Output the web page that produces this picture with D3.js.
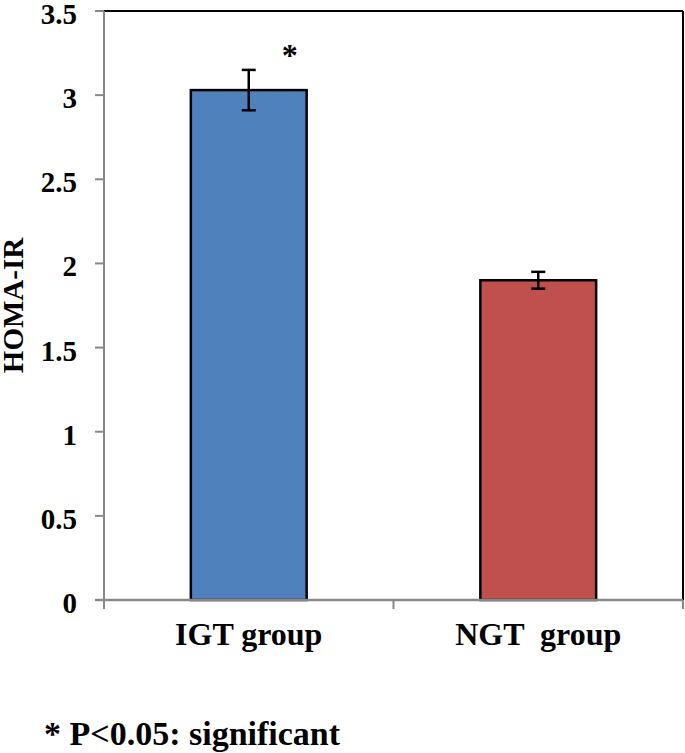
<!DOCTYPE html>
<html><head><meta charset="utf-8">
<script src="https://cdn.jsdelivr.net/npm/d3@7"></script>
<style>body{margin:0;background:#fff}svg{display:block}text{font-family:"Liberation Serif","Times New Roman",serif;font-weight:bold;fill:#000;white-space:pre}</style>
</head><body>
<svg id="c" width="685" height="753"></svg>
<script>
const categories = ["IGT group", "NGT  group"];
const values = [3.03, 1.90];
const errors = [0.12, 0.05];
const colors = ["#4F81BD", "#C0504D"];
const yTicks = [0, 0.5, 1, 1.5, 2, 2.5, 3, 3.5];
const yTickLabels = ["0", "0.5", "1", "1.5", "2", "2.5", "3", "3.5"];
const significant = [true, false];

const svg = d3.select("#c");
const L = 104, R = 683, T = 11, B = 600;
const x = d3.scaleBand().domain(categories).range([L, R]).paddingInner(0.6).paddingOuter(0.3);
const xb = d3.scaleBand().domain(categories).range([L, R]);
const y = d3.scaleLinear().domain([0, 3.5]).range([B, T]);

// frame top & right
svg.append("line").attr("x1", L).attr("x2", R).attr("y1", T).attr("y2", T).attr("stroke", "#000").attr("stroke-width", 2);
svg.append("line").attr("x1", R).attr("x2", R).attr("y1", T).attr("y2", B).attr("stroke", "#000").attr("stroke-width", 2);

// y axis
svg.append("line").attr("x1", L).attr("x2", L).attr("y1", T).attr("y2", B).attr("stroke", "#888").attr("stroke-width", 2);
yTicks.forEach((t, i) => {
  svg.append("line").attr("x1", L - 9).attr("x2", L).attr("y1", y(t)).attr("y2", y(t)).attr("stroke", "#888").attr("stroke-width", 2);
  svg.append("text").attr("x", 77).attr("y", y(t)).attr("dy", "0.45em").attr("text-anchor", "end").attr("font-size", 29).text(yTickLabels[i]);
});

// bars
svg.selectAll("rect.bar").data(categories).join("rect")
  .attr("x", d => x(d)).attr("width", x.bandwidth())
  .attr("y", (d, i) => y(values[i])).attr("height", (d, i) => y(0) - y(values[i]))
  .attr("fill", (d, i) => colors[i]).attr("stroke", "#000").attr("stroke-width", 2.5);

// x axis
svg.append("line").attr("x1", L - 9).attr("x2", R).attr("y1", B).attr("y2", B).attr("stroke", "#888").attr("stroke-width", 2.5);
[L, xb(categories[1]), R].forEach(px => {
  svg.append("line").attr("x1", px).attr("x2", px).attr("y1", B).attr("y2", B + 9).attr("stroke", "#888").attr("stroke-width", 2);
});
categories.forEach(c => {
  svg.append("text").attr("x", x(c) + x.bandwidth() / 2).attr("y", 645).attr("text-anchor", "middle").attr("font-size", 32).text(c);
});

// error bars
categories.forEach((c, i) => {
  const cx = x(c) + x.bandwidth() / 2;
  const g = svg.append("g").attr("stroke", "#000").attr("stroke-width", 2.5);
  g.append("line").attr("x1", cx).attr("x2", cx).attr("y1", y(values[i] + errors[i])).attr("y2", y(values[i] - errors[i]));
  [values[i] + errors[i], values[i] - errors[i]].forEach(v => {
    g.append("line").attr("x1", cx - 7).attr("x2", cx + 7).attr("y1", y(v)).attr("y2", y(v));
  });
  if (significant[i]) {
    svg.append("text").attr("x", cx + 41).attr("y", y(values[i] + errors[i]) - 4).attr("text-anchor", "middle").attr("font-size", 32).text("*");
  }
});

// y label
svg.append("text").attr("transform", `translate(23,${(T + B) / 2}) rotate(-90)`).attr("text-anchor", "middle").attr("font-size", 29).text("HOMA-IR");

// footnote
svg.append("text").attr("x", 44).attr("y", 745).attr("font-size", 34).text("* P<0.05: significant");
</script>
</body></html>
